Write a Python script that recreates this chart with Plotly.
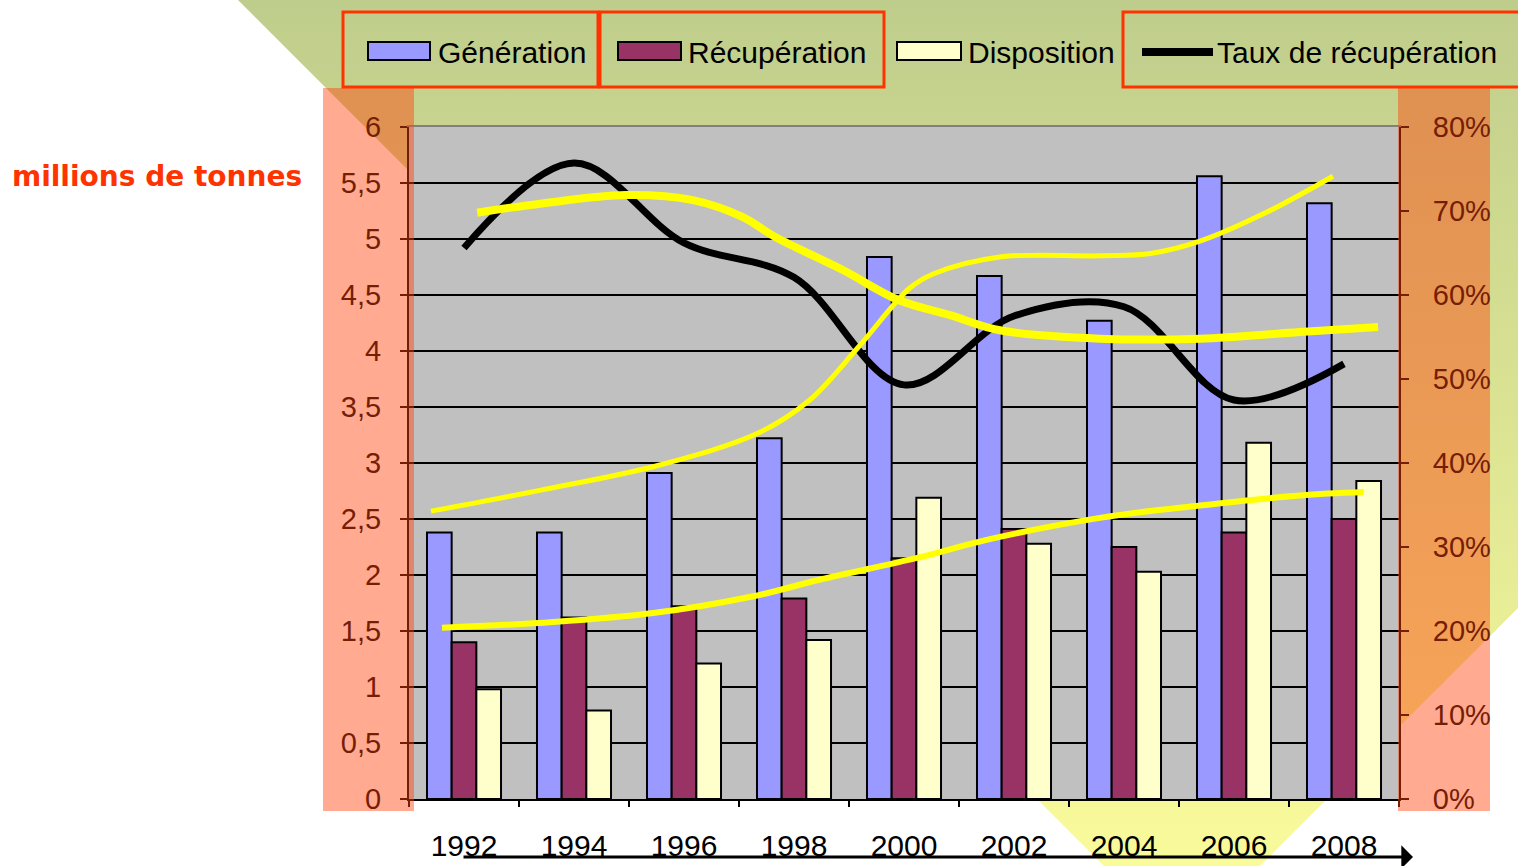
import base64
import plotly.graph_objects as go

# ---------------- data ----------------
years = ["1992", "1994", "1996", "1998", "2000", "2002", "2004", "2006", "2008"]
generation = [2.38, 2.38, 2.91, 3.22, 4.84, 4.67, 4.27, 5.56, 5.32]
recuperation = [1.40, 1.62, 1.72, 1.79, 2.15, 2.41, 2.25, 2.38, 2.50]
disposition = [0.98, 0.79, 1.21, 1.42, 2.69, 2.28, 2.03, 3.18, 2.84]
taux = [65.6, 75.7, 66.2, 62.1, 49.3, 57.5, 58.6, 47.5, 51.8]  # %

# hand-drawn yellow trend curves (x in category index units)
trend_taux_x = [0.12, 0.71, 1.47, 2.08, 2.53, 2.83, 3.44, 3.95, 4.42, 4.87, 5.78, 6.69, 7.60, 8.31]
trend_taux_y = [69.8, 70.9, 71.9, 71.3, 69.3, 66.9, 63.0, 59.4, 57.6, 55.8, 54.8, 54.8, 55.6, 56.2]
trend_gen_x = [-0.30, 0.71, 1.77, 2.68, 3.14, 3.59, 4.05, 4.27, 4.87, 5.78, 6.24, 6.69, 7.30, 7.90]
trend_gen_y = [2.57, 2.76, 2.98, 3.27, 3.56, 4.04, 4.56, 4.69, 4.84, 4.85, 4.87, 4.98, 5.24, 5.56]
trend_rec_x = [-0.20, 0.81, 1.72, 2.63, 3.24, 4.11, 4.78, 5.78, 6.69, 7.60, 8.18]
trend_rec_y = [1.53, 1.58, 1.66, 1.81, 1.96, 2.15, 2.32, 2.51, 2.62, 2.71, 2.74]

left_tickvals = [0, 0.5, 1, 1.5, 2, 2.5, 3, 3.5, 4, 4.5, 5, 5.5, 6]
left_ticktext = ["0", "0,5", "1", "1,5", "2", "2,5", "3", "3,5", "4", "4,5", "5", "5,5", "6"]
right_tickvals = [0, 10, 20, 30, 40, 50, 60, 70, 80]
right_ticktext = ["0%", "10%", "20%", "30%", "40%", "50%", "60%", "70%", "80%"]

legend_names = ["Génération", "Récupération", "Disposition", "Taux de récupération"]
colors = ["#9999FF", "#993366", "#FFFFCC"]

# ---------------- geometry ----------------
W, H = 1518, 866
L, R, T, B = 409, 119, 127, 67
PW, PH = W - L - R, H - T - B


def px(x):
    return (x - L) / PW


def py(y):
    return (H - B - y) / PH


FONT = "Liberation Sans, Arial, sans-serif"

fig = go.Figure()
for name, vals, col in zip(legend_names[:3], [generation, recuperation, disposition], colors):
    fig.add_trace(go.Bar(x=years, y=vals, name=name, marker=dict(color=col, line=dict(color="black", width=2))))

fig.add_trace(go.Scatter(x=years, y=taux, name=legend_names[3], yaxis="y2", mode="lines",
                         line=dict(color="black", width=7, shape="spline")))

fig.add_trace(go.Scatter(x=trend_gen_x, y=trend_gen_y, xaxis="x2", yaxis="y", mode="lines",
                         line=dict(color="#FFFF00", width=5, shape="spline"), showlegend=False))
fig.add_trace(go.Scatter(x=trend_rec_x, y=trend_rec_y, xaxis="x2", yaxis="y", mode="lines",
                         line=dict(color="#FFFF00", width=6, shape="spline"), showlegend=False))
fig.add_trace(go.Scatter(x=trend_taux_x, y=trend_taux_y, xaxis="x2", yaxis="y2", mode="lines",
                         line=dict(color="#FFFF00", width=8, shape="spline"), showlegend=False))

# ---------------- background gradient shape (svg) ----------------
svg = (
    f'<svg xmlns="http://www.w3.org/2000/svg" width="{W}" height="{H}" viewBox="0 0 {W} {H}" '
    'preserveAspectRatio="none"><defs><linearGradient id="g" x1="0" y1="0" x2="0" y2="1">'
    '<stop offset="0" stop-color="#BFCD8C"/><stop offset="1" stop-color="#FFFF9C"/></linearGradient></defs>'
    '<polygon points="238,0 1518,0 1518,608 1182,944" fill="url(#g)"/></svg>'
)
src = "data:image/svg+xml;base64," + base64.b64encode(svg.encode()).decode()

shapes = []
# gray plot area (drawn over the background picture, under the gridlines)
shapes.append(dict(type="rect", xref="paper", yref="paper", x0=0, x1=1, y0=0, y1=1,
                   fillcolor="#C0C0C0", line=dict(width=0), layer="below"))
# semi-transparent salmon overlays on the two axes
for x0, x1 in [(323, 414), (1398, 1490)]:
    shapes.append(dict(type="rect", xref="paper", yref="paper", x0=px(x0), x1=px(x1), y0=py(811), y1=py(88),
                       fillcolor="rgba(255,67,11,0.45)", line=dict(width=0), layer="above"))
# red legend frames
for x0, x1 in [(343, 598), (600, 884), (1123, 1530)]:
    shapes.append(dict(type="rect", xref="paper", yref="paper", x0=px(x0), x1=px(x1), y0=py(87), y1=py(12),
                       line=dict(color="#FF3300", width=3), fillcolor="rgba(0,0,0,0)", layer="above"))
# legend keys
for (x0, x1), col in zip([(368, 430), (618, 681), (897, 961)], colors):
    shapes.append(dict(type="rect", xref="paper", yref="paper", x0=px(x0), x1=px(x1), y0=py(60), y1=py(42),
                       fillcolor=col, line=dict(color="black", width=2), layer="above"))
shapes.append(dict(type="line", xref="paper", yref="paper", x0=px(1142), x1=px(1213), y0=py(52), y1=py(52),
                   line=dict(color="black", width=8), layer="above"))

annotations = []
for xt, name in zip([436, 686, 966, 1215], legend_names):
    annotations.append(dict(xref="paper", yref="paper", x=px(xt), y=py(52), text=name, showarrow=False,
                            xanchor="left", yanchor="middle", font=dict(family=FONT, size=30, color="black")))
annotations.append(dict(xref="paper", yref="paper", x=px(10), y=py(177), text="<b>millions de tonnes</b>",
                        showarrow=False, xanchor="left", yanchor="middle",
                        font=dict(family="Verdana, DejaVu Sans, sans-serif", size=28, color="#FF3300")))
annotations.append(dict(xref="paper", yref="paper", x=px(1413), y=py(857), text="", showarrow=True,
                        ax=462 - 1413, ay=0, arrowhead=1, arrowwidth=3, arrowsize=1.3, arrowcolor="black"))

fig.update_layout(
    width=W, height=H,
    margin=dict(l=L, r=R, t=T, b=B, autoexpand=False),
    paper_bgcolor="white", plot_bgcolor="rgba(0,0,0,0)",
    showlegend=False, barmode="group", bargap=0.327, bargroupgap=0,
    font=dict(family=FONT, size=29, color="black"),
    images=[dict(source=src, xref="paper", yref="paper", x=px(0), y=py(0), sizex=W / PW, sizey=H / PH,
                 xanchor="left", yanchor="top", sizing="stretch", layer="below")],
    shapes=shapes, annotations=annotations,
    xaxis=dict(type="category", range=[-0.5, 8.5], tickson="boundaries", ticks="outside", ticklen=6,
               tickwidth=2, tickcolor="black", showline=True, linecolor="black", linewidth=2,
               showgrid=False, tickfont=dict(size=30, color="black"), ticklabelstandoff=19),
    xaxis2=dict(overlaying="x", side="top", anchor="y", range=[-0.5, 8.5], showline=True,
                linecolor="#808080", linewidth=2, showticklabels=False, ticks="", showgrid=False,
                zeroline=False),
    yaxis=dict(range=[0, 6], tickvals=left_tickvals, ticktext=left_ticktext, ticks="outside", ticklen=7,
               tickwidth=2, tickcolor="black", showline=True, linecolor="black", linewidth=2,
               showgrid=True, gridcolor="black", gridwidth=1.5, zeroline=False,
               tickfont=dict(size=29, color="black"), ticklabelstandoff=13),
    yaxis2=dict(overlaying="y", side="right", range=[0, 80], tickvals=right_tickvals, ticktext=right_ticktext,
                ticks="outside", ticklen=8, tickwidth=2, tickcolor="black", showline=True,
                linecolor="black", linewidth=2, showgrid=False, zeroline=False,
                tickfont=dict(size=29, color="black"), ticklabelstandoff=18),
)

fig.write_html("out.html", config={"displayModeBar": False},
               post_script="document.body.style.margin='0px';")
